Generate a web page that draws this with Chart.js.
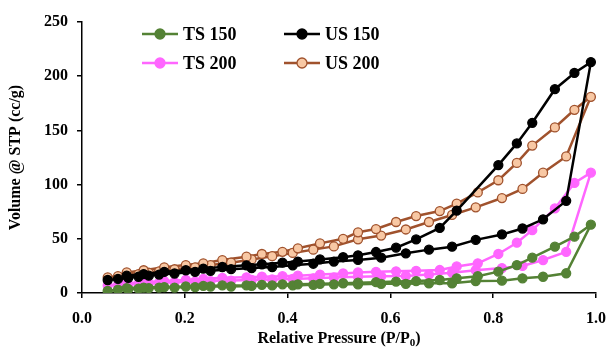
<!DOCTYPE html>
<html>
<head>
<meta charset="utf-8">
<script src="https://cdn.jsdelivr.net/npm/chart.js@4.4.1/dist/chart.umd.min.js"></script>
<style>
  body { margin:0; background:#fff; }
</style>
</head>
<body>
<canvas id="isoChart" width="608" height="349"></canvas>
<script>
// relative pressure of the adsorption and desorption points
const adsP = [0.05,0.07,0.09,0.11,0.13,0.15,0.18,0.22,0.25,0.29,0.33,0.37,0.41,0.45,0.49,0.537,0.582,0.63,0.675,0.72,0.766,0.817,0.857,0.897,0.942,0.99];
const desP = [0.958,0.92,0.876,0.846,0.81,0.77,0.729,0.696,0.65,0.611,0.572,0.537,0.508,0.463,0.42,0.39,0.35,0.32,0.273,0.236,0.202,0.16,0.12,0.087];

// volume adsorbed (cc/g), null = no point measured there
const ts150Ads = [2,3,3.5,4,4.5,5,5,5.5,6,6,6.5,7,7,7.5,8,8,8.5,8.5,9,9,11,11.4,13.5,15,18.2,63];
const ts150Des = [52,42.7,32.6,25.8,19.7,15.5,13.5,12,11,10.5,10,9.5,9,8.5,8,8,7.5,7,7,6.5,6,5.5,5,4.5];

const us150Ads = [12,13,14,15,16,17,18,19.5,20.5,22,23,24,25.5,27,29,30.5,32.6,36.6,40,42.7,49,54,59.5,68,85,213];
const us150Des = [203,188,157,138,118,null,76,60,49.4,41.8,37.8,34.8,33,31,29,28,26.5,25.5,24,22.5,21,19.5,17.5,16];

const ts200Ads = [7,7.5,8,8.5,9,9.5,10,10.5,11,11.5,12,12.5,13,13.5,14.3,15,15.5,15.7,17,18.7,21,23,25,30.4,38,111];
const ts200Des = [101.5,78,58,46.4,36,27.4,24.5,21.2,20.5,20,19.5,19,18,17,16,15.5,15,14.5,14,13,12,11,10,9];

const us200Ads = [14.5,15.5,16.5,17.5,18.7,20,21.9,23.7,25.8,28,31,34,37,40,43,49.5,53,58.6,65.5,72,79,87.6,96,111,126,181];
const us200Des = [169,152.7,136,120,104,92.8,82.5,75.6,71,65.5,59,56,50,45.8,41.2,38,36,33.5,30.4,27.4,25.8,23.7,21,19];

const seriesNames = ["TS 150","US 150","TS 200","US 200"];

function loop(ads, des){
  const pts = adsP.map((p,i)=>({x:p, y:ads[i]}));
  return pts.concat(desP.map((p,i)=>({x:p, y:des[i]})));
}

const FONT = "'Liberation Serif', 'Times New Roman', serif";

function makeSet(label, data, line, fill){
  return {
    label:label,
    data:data,
    showLine:true,
    spanGaps:true,
    borderColor:line,
    backgroundColor:line,
    borderWidth:2.5,
    pointRadius:4.5,
    pointBorderWidth:1.3,
    pointBackgroundColor:fill,
    pointBorderColor:line,
    tension:0
  };
}

const datasets = [
  makeSet(seriesNames[0], loop(ts150Ads, ts150Des), "#548235", "#548235"),
  makeSet(seriesNames[1], loop(us150Ads, us150Des), "#000000", "#000000"),
  makeSet(seriesNames[2], loop(ts200Ads, ts200Des), "#ff66ff", "#ff66ff"),
  makeSet(seriesNames[3], loop(us200Ads, us200Des), "#a0522d", "#f8c8a4")
];

// legend drawn inside the plot, two columns by two rows
const innerLegend = {
  id:"innerLegend",
  afterDraw(chart){
    const ctx = chart.ctx;
    const cols = [142, 284];
    const rows = [34, 63];
    ctx.save();
    ctx.font = "bold 18px " + FONT;
    ctx.textBaseline = "middle";
    chart.data.datasets.forEach((ds,i)=>{
      const x = cols[i % 2];
      const y = rows[Math.floor(i / 2)];
      ctx.strokeStyle = ds.borderColor;
      ctx.lineWidth = 2.5;
      ctx.beginPath();
      ctx.moveTo(x, y);
      ctx.lineTo(x + 36, y);
      ctx.stroke();
      ctx.beginPath();
      ctx.arc(x + 18, y, 5, 0, Math.PI * 2);
      ctx.fillStyle = ds.pointBackgroundColor;
      ctx.fill();
      ctx.lineWidth = 1.3;
      ctx.stroke();
      ctx.fillStyle = "#000";
      ctx.textAlign = "left";
      ctx.fillText(ds.label, x + 41, y + 1);
    });
    ctx.restore();
  }
};

// x-axis title with subscript 0
const xTitle = {
  id:"xTitle",
  afterDraw(chart){
    const ctx = chart.ctx;
    const a = chart.chartArea;
    const main = "Relative Pressure (P/P";
    ctx.save();
    ctx.fillStyle = "#000";
    ctx.textBaseline = "alphabetic";
    ctx.font = "bold 16px " + FONT;
    const w1 = ctx.measureText(main).width;
    const w3 = ctx.measureText(")").width;
    ctx.font = "bold 11px " + FONT;
    const w2 = ctx.measureText("0").width;
    let x = (a.left + a.right) / 2 - (w1 + w2 + w3) / 2;
    const y = 343;
    ctx.font = "bold 16px " + FONT;
    ctx.fillText(main, x, y);
    ctx.font = "bold 11px " + FONT;
    ctx.fillText("0", x + w1, y + 3);
    ctx.font = "bold 16px " + FONT;
    ctx.fillText(")", x + w1 + w2, y);
    ctx.restore();
  }
};

new Chart(document.getElementById("isoChart"), {
  type:"scatter",
  data:{ datasets:datasets },
  plugins:[innerLegend, xTitle],
  options:{
    responsive:false,
    animation:false,
    layout:{ padding:{ top:22, right:0, left:0, bottom:0 } },
    plugins:{ legend:{ display:false }, tooltip:{ enabled:false } },
    scales:{
      x:{
        type:"linear",
        min:0, max:1,
        afterFit(scale){
          scale.height = 56;
          scale.paddingLeft = 0;
          scale.paddingRight = 12;
        },
        ticks:{
          stepSize:0.2,
          padding:11,
          color:"#000",
          font:{ family:FONT, size:16, weight:"bold" },
          callback:v=>v.toFixed(1)
        },
        grid:{ drawOnChartArea:false, drawTicks:true, tickLength:5, color:"#000", lineWidth:1.5 },
        border:{ color:"#000", width:1.5 }
      },
      y:{
        min:0, max:250,
        afterFit(scale){ scale.width = 82; },
        ticks:{
          stepSize:50,
          padding:9,
          color:"#000",
          font:{ family:FONT, size:16, weight:"bold" }
        },
        title:{
          display:true,
          text:"Volume @ STP (cc/g)",
          color:"#000",
          padding:{ top:6, bottom:0 },
          font:{ family:FONT, size:16, weight:"bold" }
        },
        grid:{ drawOnChartArea:false, drawTicks:true, tickLength:5, color:"#000", lineWidth:1.5 },
        border:{ color:"#000", width:1.5 }
      }
    }
  }
});
</script>
</body>
</html>
